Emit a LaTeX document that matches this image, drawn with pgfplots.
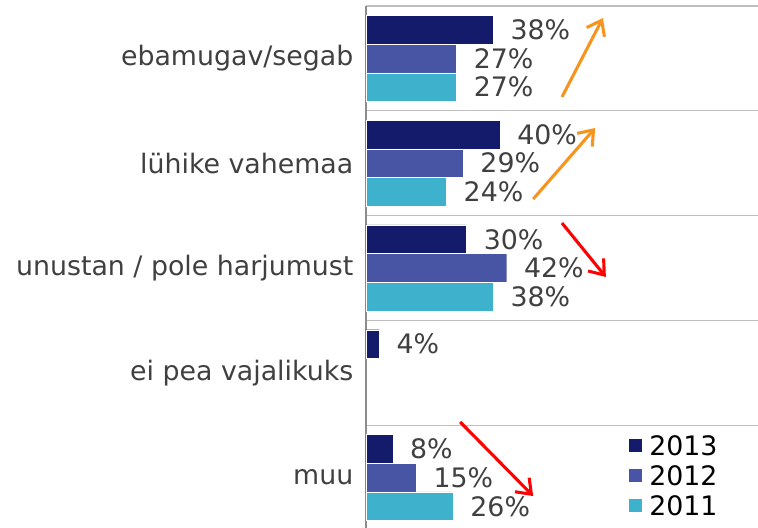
\documentclass[border=0pt]{standalone}
\usepackage{fontspec}
\setmainfont{DejaVu Sans}
\usepackage{pgfplots}
\pgfplotsset{compat=1.18}
\usetikzlibrary{arrows.meta}
\definecolor{c2013}{RGB}{20,27,107}
\definecolor{c2012}{RGB}{72,84,164}
\definecolor{c2011}{RGB}{62,177,204}
\definecolor{txtgray}{RGB}{64,64,64}
\definecolor{arrorange}{RGB}{247,148,30}
\definecolor{arrred}{RGB}{255,0,0}
\newcommand{\chartfont}{\fontsize{20.1}{23}\selectfont}
\begin{document}
\begin{tikzpicture}
\begin{axis}[
  name=ax, at={(0,0)}, anchor=north west,
  scale only axis, width=294pt, height=393pt,
  xmin=0, xmax=117, ymin=-0.5, ymax=4.5, y dir=reverse,
  xbar, bar width=0.274, bar shift=0,
  axis x line=none, axis y line*=left,
  y axis line style={draw=gray!90, line width=1.1pt},
  ytick={0,1,2,3,4},
  yticklabels={ebamugav/segab, lühike vahemaa, unustan / pole harjumust, ei pea vajalikuks, muu},
  yticklabel style={font=\chartfont, text=txtgray, xshift=-6pt},
  major tick length=0, minor tick length=0,
  minor ytick={-0.5,0.5,1.5,2.5,3.5},
  yminorgrids, minor grid style={draw=gray!50, line width=1pt},
  point meta=x,
  nodes near coords={\pgfmathprintnumber{\pgfplotspointmeta}\%},
  /pgf/number format/assume math mode=true,
  every node near coord/.append style={anchor=west, font=\chartfont, text=txtgray, xshift=9.5pt},
  legend image code/.code={\fill[#1] (0pt,-5.25pt) rectangle (10.5pt,5.25pt);},
  legend style={at={(axis cs:78.2,3.57)}, anchor=north west, draw=none, fill=none,
    font=\chartfont, row sep=3.6pt, inner sep=0pt,
    nodes={inner sep=2pt, text depth=0pt}},
  legend cell align=left,
  clip=false,
]
\addplot[fill=c2013, draw=white, line width=0.3pt] coordinates {(38,-0.274) (40,0.726) (30,1.726) (4,2.726) (8,3.726)};
\addplot[fill=c2012, draw=white, line width=0.3pt] coordinates {(27,0) (29,1) (42,2) (15,4)};
\addplot[fill=c2011, draw=white, line width=0.3pt] coordinates {(27,0.274) (24,1.274) (38,2.274) (26,4.274)};
\addlegendentry{\hspace{3pt}2013}
\addlegendentry{\hspace{3pt}2012}
\addlegendentry{\hspace{3pt}2011}
\draw[arrorange, line width=2.3pt, -{Straight Barb[length=10pt,width=15pt]}] (axis cs:58.5,0.368) -- (axis cs:70.7,-0.385);
\draw[arrorange, line width=2.3pt, -{Straight Barb[length=10pt,width=15pt]}] (axis cs:49.9,1.342) -- (axis cs:68.4,0.664);
\draw[arrred, line width=2.3pt, -{Straight Barb[length=10pt,width=15pt]}] (axis cs:58.5,1.571) -- (axis cs:71.6,2.086);
\draw[arrred, line width=2.3pt, -{Straight Barb[length=10pt,width=15pt]}] (axis cs:28.1,3.469) -- (axis cs:49.9,4.176);
\end{axis}
\pgfresetboundingbox
\path[use as bounding box] (-274.5pt,4.5pt) rectangle (294pt,-391.5pt);
\end{tikzpicture}
\end{document}
